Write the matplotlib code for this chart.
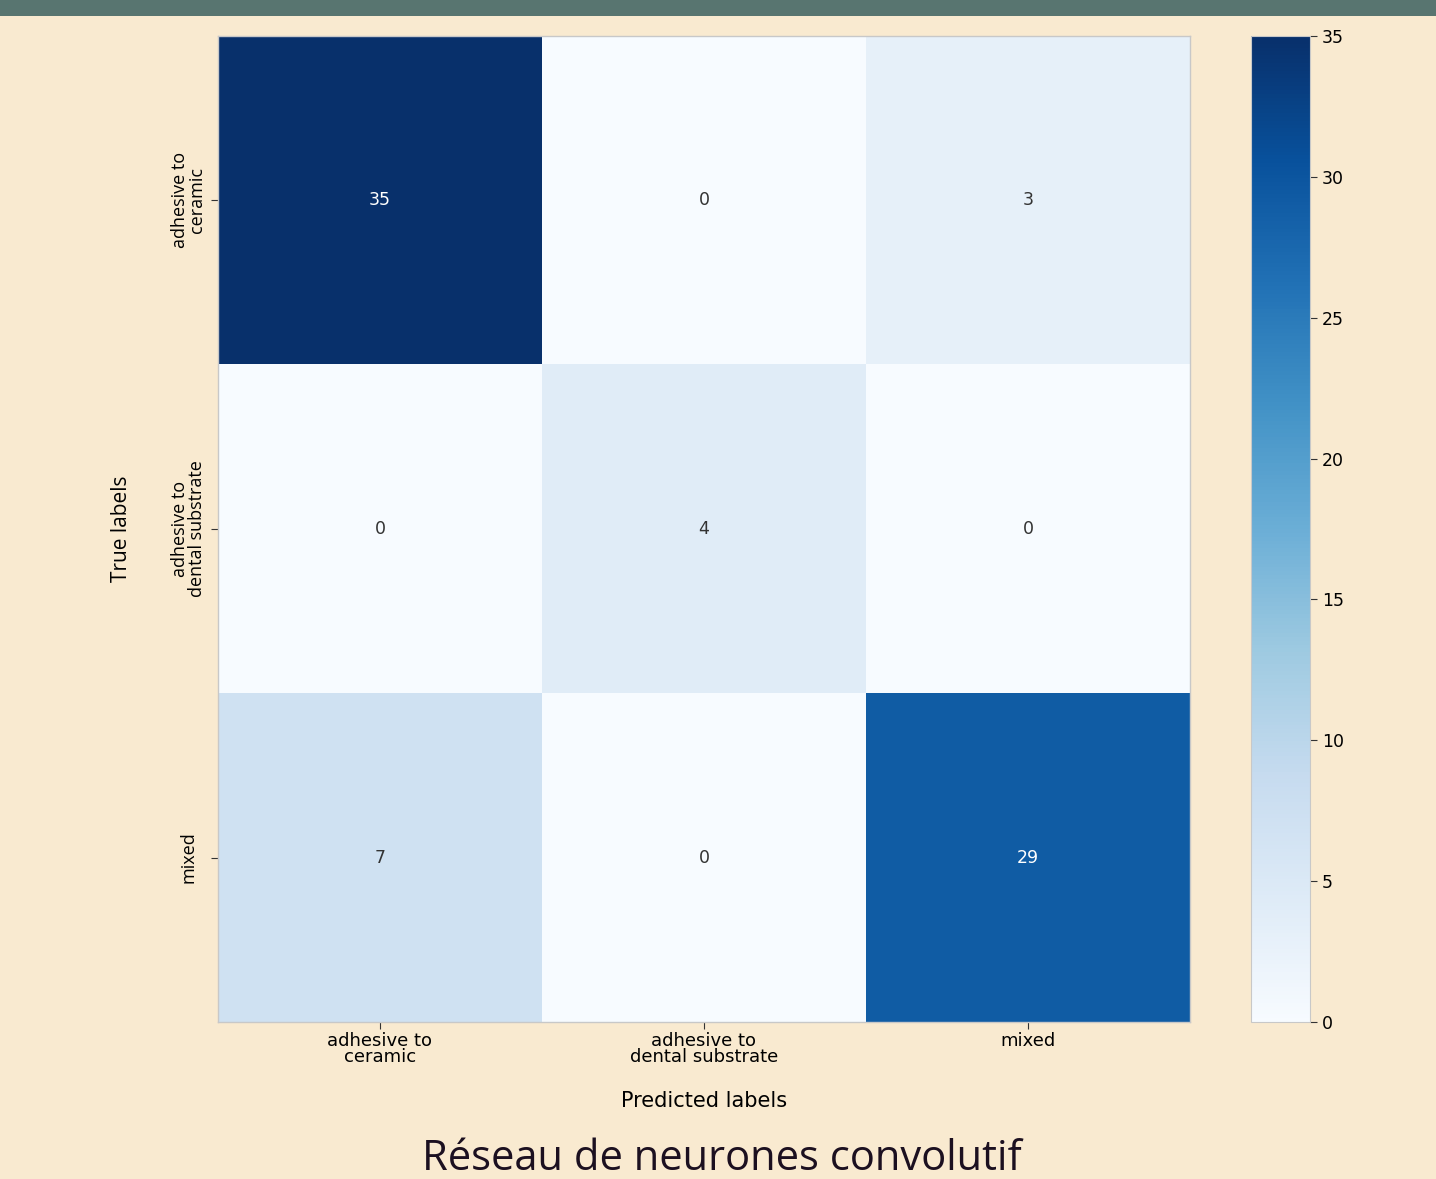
import matplotlib.pyplot as plt
import numpy as np
from matplotlib.patches import Rectangle

# matrice de confusion
classes_x = ["adhesive to\nceramic", "adhesive to\ndental substrate", "mixed"]
classes_y = ["adhesive to\nceramic", "adhesive to\ndental substrate", "mixed"]
cm = np.array([[35, 0, 3],
               [0, 4, 0],
               [7, 0, 29]])
cbar_ticks = [0, 5, 10, 15, 20, 25, 30, 35]

bg = "#f9ead0"
fig = plt.figure(figsize=(14.36, 11.79), dpi=100, facecolor=bg)

# bandeau du haut
fig.patches.append(Rectangle((0, 1 - 16 / 1179), 1, 16 / 1179, transform=fig.transFigure,
                             facecolor="#587570", edgecolor="none", zorder=0))

ax = fig.add_axes([0.1518, 0.1332, 0.6769, 0.8363])
cax = fig.add_axes([0.8712, 0.1332, 0.0411, 0.8363])

im = ax.imshow(cm, cmap="Blues", vmin=0, vmax=35, aspect="auto")
for i in range(cm.shape[0]):
    for j in range(cm.shape[1]):
        v = cm[i, j]
        ax.text(j, i, str(v), ha="center", va="center", fontsize=12.5,
                color="white" if v > 17 else "#333333")

ax.set_xticks(range(3))
ax.set_xticklabels(classes_x, fontsize=13, linespacing=0.85)
ax.set_yticks(range(3))
ax.set_yticklabels(classes_y, fontsize=13, rotation=90, va="center", ha="center",
                   family="Open Sans", linespacing=0.95)
ax.tick_params(axis="y", pad=16, length=5, color="#333333")
ax.tick_params(axis="x", pad=2, length=5, color="#333333")
ax.set_xlabel("Predicted labels", fontsize=15, labelpad=18)
ax.set_ylabel("True labels", fontsize=15, family="Open Sans", labelpad=28)
for s in ax.spines.values():
    s.set_color("#c8c8c8")
    s.set_linewidth(1)

cb = fig.colorbar(im, cax=cax, ticks=cbar_ticks)
cb.ax.tick_params(labelsize=12.5, length=5, color="#333333")
cb.outline.set_edgecolor("#c8c8c8")

fig.text(0.503, -0.001, "Réseau de neurones convolutif", ha="center", va="bottom",
         fontsize=30, family="Open Sans", color="#1c1020")

fig.savefig("out.png", dpi=100, facecolor=bg)
